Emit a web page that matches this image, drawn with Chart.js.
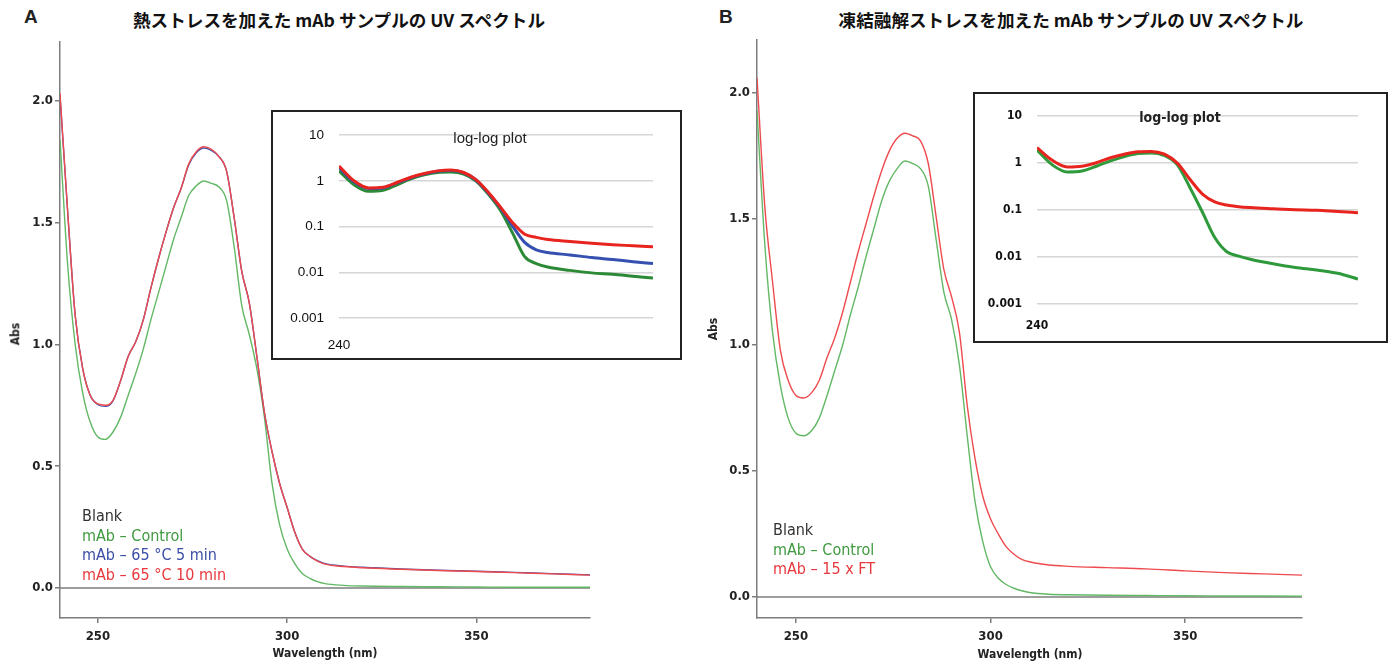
<!DOCTYPE html>
<html>
<head>
<meta charset="utf-8">
<script src="https://cdn.jsdelivr.net/npm/chart.js@4.4.1/dist/chart.umd.min.js"></script>
<style>
  body { margin: 0; background: #fff; width: 1397px; height: 663px; position: relative; overflow: hidden;
         font-family: 'Liberation Sans Narrow', 'DejaVu Sans Condensed', sans-serif; }
  canvas { display: block; position: absolute; }
  .txt { position: absolute; white-space: nowrap; }
  .title { font-family: 'Noto Sans CJK JP', sans-serif; font-weight: bold; font-size: 17.6px; transform: translateX(-50%); color: #111; }
  .panel { font-family: 'Liberation Sans', Arial, sans-serif; font-weight: bold; font-size: 19px; color: #222; }
  .legend { font-size: 16px; line-height: 19.5px; }
  .axisTitle { font-weight: bold; font-size: 12px; color: #222; }
  .inset { position: absolute; border: 2px solid #222; box-sizing: border-box; background: #fff; }
  .insetTitle { font-family: 'Liberation Sans', Arial, sans-serif; font-size: 15px; color: #222; transform: translateX(-50%); }
</style>
</head>
<body>
<div class="txt panel" style="left:24px; top:6px;">A</div>
<div class="txt panel" style="left:719px; top:6px;">B</div>
<div class="txt title" style="left:339px; top:7px;">熱ストレスを加えた mAb サンプルの UV スペクトル</div>
<div class="txt title" style="left:1071px; top:7px;">凍結融解ストレスを加えた mAb サンプルの UV スペクトル</div>

<canvas id="mainA" width="600" height="663" style="left:0; top:0;"></canvas>
<canvas id="mainB" width="697" height="663" style="left:700px; top:0;"></canvas>

<div class="txt axisTitle" style="left:4px; top:327px; transform:rotate(-90deg);">Abs</div>
<div class="txt axisTitle" style="left:702px; top:322px; transform:rotate(-90deg);">Abs</div>
<div class="txt axisTitle" style="left:325px; top:646px; transform:translateX(-50%);">Wavelength (nm)</div>
<div class="txt axisTitle" style="left:1030px; top:647px; transform:translateX(-50%);">Wavelength (nm)</div>

<div class="txt legend" style="left:82px; top:506px;">
  <div style="color:#333;">Blank</div>
  <div style="color:#3f9a3f;">mAb – Control</div>
  <div style="color:#3c4ea6;">mAb – 65 °C 5 min</div>
  <div style="color:#e8383d;">mAb – 65 °C 10 min</div>
</div>
<div class="txt legend" style="left:773px; top:520px;">
  <div style="color:#333;">Blank</div>
  <div style="color:#3f9a3f;">mAb – Control</div>
  <div style="color:#e8383d;">mAb – 15 x FT</div>
</div>

<div class="inset" style="left:271px; top:110px; width:411px; height:250px;">
  <canvas id="insetA" width="407" height="246" style="left:0; top:0;"></canvas>
</div>
<div class="txt insetTitle" style="left:490px; top:129px;">log-log plot</div>

<div class="inset" style="left:973px; top:92px; width:415px; height:251px;">
  <canvas id="insetB" width="411" height="247" style="left:0; top:0;"></canvas>
</div>
<div class="txt insetTitle" style="left:1180px; top:109px; font-size:14px; font-family:'DejaVu Sans Condensed', sans-serif; font-weight:bold;">log-log plot</div>

<script>
// Main spectra: wavelength (nm) and absorbance
const wavelengths = [240, 242, 244, 246, 248, 250, 252, 254, 256, 258, 260, 262, 264, 266, 268, 270,
  272, 274, 276, 278, 280, 282, 284, 286, 288, 290, 292, 294, 296, 298, 300, 302, 304, 306, 308, 310,
  315, 320, 330, 340, 350, 360, 370, 380];

// Panel A - heat stress
const controlA = [1.84, 1.33, 1.00, 0.80, 0.68, 0.62, 0.61, 0.64, 0.70, 0.79, 0.88, 0.98, 1.10, 1.21, 1.32, 1.43,
  1.52, 1.61, 1.65, 1.67, 1.66, 1.645, 1.59, 1.40, 1.16, 1.04, 0.90, 0.70, 0.43, 0.26, 0.16, 0.10, 0.06, 0.04, 0.026, 0.018,
  0.011, 0.008, 0.006, 0.005, 0.004, 0.003, 0.003, 0.003];
const heat5minA = [2.02, 1.55, 1.12, 0.90, 0.79, 0.752, 0.745, 0.768, 0.85, 0.95, 1.01, 1.10, 1.23, 1.35, 1.46, 1.56,
  1.64, 1.735, 1.785, 1.805, 1.795, 1.77, 1.71, 1.52, 1.30, 1.17, 0.95, 0.72, 0.56, 0.43, 0.33, 0.23, 0.16, 0.13, 0.112, 0.10,
  0.09, 0.085, 0.078, 0.073, 0.069, 0.064, 0.059, 0.054];
const heat10minA = [2.03, 1.55, 1.12, 0.90, 0.79, 0.755, 0.75, 0.77, 0.85, 0.95, 1.01, 1.10, 1.23, 1.35, 1.46, 1.56,
  1.64, 1.74, 1.79, 1.81, 1.80, 1.77, 1.71, 1.52, 1.30, 1.17, 0.95, 0.72, 0.56, 0.43, 0.33, 0.23, 0.16, 0.13, 0.11, 0.098,
  0.088, 0.083, 0.077, 0.072, 0.068, 0.063, 0.058, 0.053];

// Panel B - freeze/thaw stress
const controlB = [1.93, 1.40, 1.05, 0.84, 0.71, 0.65, 0.64, 0.66, 0.71, 0.80, 0.90, 1.00, 1.12, 1.23, 1.35, 1.46,
  1.57, 1.65, 1.70, 1.73, 1.72, 1.70, 1.63, 1.42, 1.21, 1.10, 0.92, 0.64, 0.38, 0.22, 0.12, 0.075, 0.05, 0.035, 0.025, 0.018,
  0.011, 0.009, 0.007, 0.006, 0.005, 0.0045, 0.004, 0.0035];
const ft15xB = [2.06, 1.55, 1.25, 0.98, 0.86, 0.80, 0.79, 0.81, 0.86, 0.95, 1.03, 1.13, 1.25, 1.37, 1.48, 1.59,
  1.69, 1.77, 1.82, 1.84, 1.83, 1.81, 1.72, 1.51, 1.30, 1.19, 1.05, 0.76, 0.55, 0.40, 0.31, 0.25, 0.20, 0.17, 0.15, 0.14,
  0.127, 0.122, 0.117, 0.112, 0.104, 0.097, 0.092, 0.087];

const blankX = [240, 380];
const blankAbs = [0, 0];

// Inset (log-log) data
const insetWavelengths = [240, 245, 250, 255, 260, 265, 270, 275, 280, 285, 290, 295, 300, 305, 310, 315, 320,
  330, 340, 350, 360, 370];
const insetControlA = [1.65, 0.82, 0.59, 0.62, 0.82, 1.10, 1.35, 1.52, 1.55, 1.40, 0.98, 0.50, 0.22, 0.07, 0.022,
  0.0155, 0.013, 0.011, 0.0097, 0.009, 0.0082, 0.0075];
const inset5minA = [1.95, 0.95, 0.68, 0.70, 0.90, 1.17, 1.42, 1.62, 1.68, 1.50, 1.03, 0.53, 0.25, 0.10, 0.045,
  0.031, 0.027, 0.024, 0.021, 0.019, 0.017, 0.0155];
const inset10minA = [2.1, 1.0, 0.70, 0.72, 0.92, 1.20, 1.45, 1.65, 1.72, 1.52, 1.05, 0.55, 0.26, 0.12, 0.068,
  0.058, 0.052, 0.047, 0.043, 0.040, 0.038, 0.036];
const insetControlB = [1.9, 0.92, 0.65, 0.68, 0.86, 1.12, 1.38, 1.60, 1.65, 1.45, 0.92, 0.30, 0.09, 0.026, 0.013,
  0.0105, 0.009, 0.0072, 0.006, 0.0053, 0.0045, 0.0034];
const insetFtB = [2.15, 1.15, 0.83, 0.86, 1.02, 1.30, 1.55, 1.75, 1.78, 1.55, 1.00, 0.45, 0.22, 0.15, 0.128,
  0.118, 0.113, 0.107, 0.102, 0.099, 0.093, 0.088];

// Ticks
const mainXTicks = [250, 300, 350];
const mainYTicks = [0, 0.5, 1.0, 1.5, 2.0];
const insetXTicks = [240];
const insetYTicks = [0.001, 0.01, 0.1, 1, 10];

const RED = "#ee4b4f";
const BLUE = "#4452a8";
const GREEN = "#63b866";
const GRAY = "#7d7d7d";
const condFont = "'Liberation Sans Narrow', 'DejaVu Sans Condensed', sans-serif";

function points(xs, ys) {
  return xs.map((x, i) => ({ x: x, y: ys[i] }));
}

function lineSet(xs, ys, color, width) {
  return {
    data: points(xs, ys),
    borderColor: color,
    borderWidth: width,
    pointRadius: 0,
    fill: false,
    cubicInterpolationMode: "monotone"
  };
}

function mainChart(id, datasets, yMin, yMax, area) {
  return new Chart(document.getElementById(id), {
    type: "line",
    data: { datasets: datasets },
    options: {
      responsive: false,
      animation: false,
      layout: { padding: { top: area.top, right: area.right, left: 0, bottom: 0 } },
      plugins: { legend: { display: false }, tooltip: { enabled: false } },
      scales: {
        x: {
          type: "linear", min: 240, max: 380,
          afterBuildTicks: (s) => { s.ticks = mainXTicks.map((v) => ({ value: v })); },
          afterFit: (s) => { s.height = area.xHeight; },
          grid: { drawOnChartArea: false, drawTicks: true, tickLength: 5, color: GRAY, lineWidth: 1.5 },
          border: { color: GRAY, width: 1.5 },
          ticks: { color: "#222", padding: 6, maxRotation: 0, font: { family: condFont, weight: "bold", size: 13 } }
        },
        y: {
          type: "linear", min: yMin, max: yMax,
          afterBuildTicks: (s) => { s.ticks = mainYTicks.map((v) => ({ value: v })); },
          afterFit: (s) => { s.width = area.left; },
          grid: { drawOnChartArea: false, drawTicks: true, tickLength: 5, color: GRAY, lineWidth: 1.5 },
          border: { color: GRAY, width: 1.5 },
          ticks: { color: "#222", padding: 2, callback: (v) => Number(v).toFixed(1),
                   font: { family: condFont, weight: "bold", size: 13 } }
        }
      }
    }
  });
}

function insetChart(id, datasets, area, font) {
  return new Chart(document.getElementById(id), {
    type: "line",
    data: { datasets: datasets },
    options: {
      responsive: false,
      animation: false,
      layout: { padding: { top: area.top, right: area.right, left: 0, bottom: 0 } },
      plugins: { legend: { display: false }, tooltip: { enabled: false } },
      scales: {
        x: {
          type: "logarithmic", min: 240, max: 370,
          afterBuildTicks: (s) => { s.ticks = insetXTicks.map((v) => ({ value: v })); },
          afterFit: (s) => { s.height = area.xHeight; },
          grid: { display: false, drawTicks: false },
          border: { display: false },
          ticks: { color: "#111", padding: area.xPad, maxRotation: 0, callback: (v) => String(v), font: font }
        },
        y: {
          type: "logarithmic", min: 0.001, max: 10,
          afterBuildTicks: (s) => { s.ticks = insetYTicks.map((v) => ({ value: v })); },
          afterFit: (s) => { s.width = area.left; },
          grid: { color: "#d6d6d6", lineWidth: 1.5, drawTicks: false },
          border: { display: false },
          ticks: { color: "#111", padding: 15, callback: (v) => String(v), font: font }
        }
      }
    }
  });
}

// Panel A main
mainChart("mainA", [
  lineSet(wavelengths, heat10minA, RED, 1.4),
  lineSet(wavelengths, heat5minA, BLUE, 1.4),
  lineSet(wavelengths, controlA, GREEN, 1.4),
  lineSet(blankX, blankAbs, GRAY, 1.5)
], -0.123, 2.24, { left: 60, top: 42, right: 10, xHeight: 45 });

// Panel B main
mainChart("mainB", [
  lineSet(wavelengths, ft15xB, RED, 1.4),
  lineSet(wavelengths, controlB, GREEN, 1.4),
  lineSet(blankX, blankAbs, GRAY, 1.5)
], -0.083, 2.21, { left: 57, top: 40, right: 95, xHeight: 45 });

// Insets
insetChart("insetA", [
  lineSet(insetWavelengths, inset10minA, "#e8241f", 3),
  lineSet(insetWavelengths, inset5minA, "#3550b0", 3),
  lineSet(insetWavelengths, insetControlA, "#2c8a36", 3)
], { left: 66, top: 18, right: 27, xHeight: 40, xPad: 19 },
   { family: "'Liberation Sans', Arial, sans-serif", size: 13.5 });

insetChart("insetB", [
  lineSet(insetWavelengths, insetFtB, "#e8241f", 3),
  lineSet(insetWavelengths, insetControlB, "#2f9a3c", 3)
], { left: 62, top: 18, right: 28, xHeight: 37, xPad: 15 },
   { family: condFont, size: 12, weight: "bold" });
</script>
</body>
</html>
